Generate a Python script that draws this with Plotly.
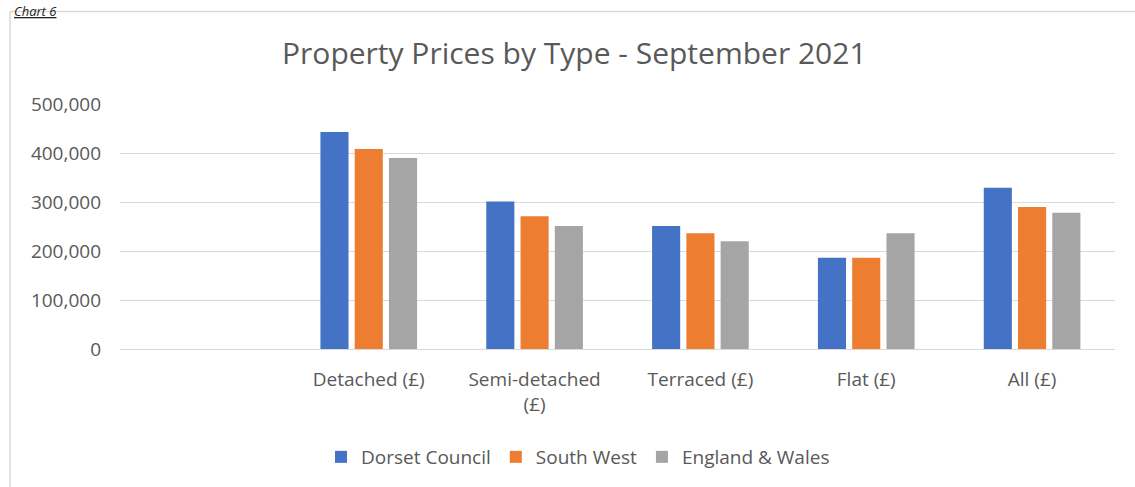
import plotly.graph_objects as go

categories = ["Detached (£)", "Semi-detached<br>(£)", "Terraced (£)", "Flat (£)", "All (£)"]
dorset = [443000, 301000, 251000, 186000, 329000]
south_west = [408000, 271000, 236000, 186000, 290000]
eng_wales = [390000, 251000, 220000, 236000, 278000]

series = [
    ("Dorset Council", dorset, "#4472C4"),
    ("South West", south_west, "#ED7D31"),
    ("England & Wales", eng_wales, "#A5A5A5"),
]

FONT = "Open Sans"
GREY = "#595959"

# plot area in pixels (used to place frame lines in paper coords)
L, R, T, B = 120, 1115, 104, 350
W, H = 1135, 487


def px_x(x):
    return (x - L) / (R - L)


def px_y(y):
    return (B - y) / (B - T)


fig = go.Figure()
for name, vals, col in series:
    fig.add_trace(go.Bar(x=categories, y=vals, name=name, marker=dict(color=col, line=dict(width=0))))

fig.update_layout(
    width=W, height=H,
    margin=dict(l=L, r=W - R, t=T, b=H - B),
    paper_bgcolor="white", plot_bgcolor="white",
    font=dict(family=FONT, color=GREY, size=19),
    title=dict(text="Property Prices by Type - September 2021", x=0.506, xanchor="center",
               y=1 - 53 / H, yanchor="middle", font=dict(size=30, color=GREY, family=FONT)),
    barmode="group", bargap=0.38, bargroupgap=0.18,
    showlegend=True,
    legend=dict(orientation="h", x=px_x(578), xanchor="center", y=px_y(457), yanchor="middle",
                font=dict(size=19, color=GREY), itemwidth=30, traceorder="normal"),
    shapes=[
        dict(type="line", xref="paper", yref="paper", x0=px_x(10), x1=px_x(W + 5),
             y0=px_y(11), y1=px_y(11), line=dict(color="#d9d9d9", width=1.5)),
        dict(type="line", xref="paper", yref="paper", x0=px_x(10), x1=px_x(10),
             y0=px_y(11), y1=px_y(H + 5), line=dict(color="#d9d9d9", width=1.5)),
    ],
    annotations=[
        dict(text="<i><u>Chart 6</u></i>", xref="paper", yref="paper", x=px_x(12), xanchor="left",
             y=px_y(0), yanchor="top", showarrow=False, font=dict(size=13, color="#222222", family=FONT)),
    ],
)

fig.update_xaxes(type="category", range=[-1.5, 4.5], showgrid=False, showline=True,
                 linecolor="#d9d9d9", linewidth=1, ticks="", tickfont=dict(size=19, color=GREY),
                 ticklabelstandoff=13)
fig.update_yaxes(range=[0, 500000], dtick=100000, tickformat=",", showgrid=True,
                 gridcolor="#d9d9d9", gridwidth=1, zeroline=False, showline=False,
                 tickfont=dict(size=19, color=GREY), ticklabelstandoff=18)

fig.write_html("out.html", config={"displayModeBar": False},
               post_script="document.body.style.margin='0';")
